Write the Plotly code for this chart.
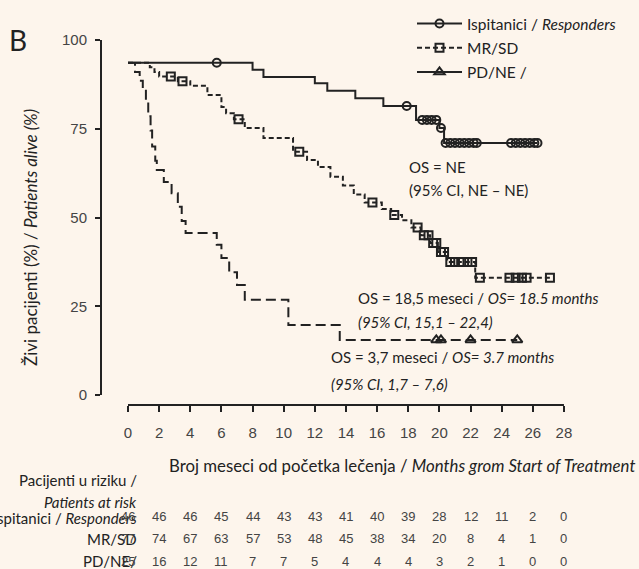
import plotly.graph_objects as go

# ---------------- data ----------------
start_surv = 93.6

resp_event_t = [8.0, 8.7, 12.0, 12.8, 14.6, 16.4, 18.5, 20.0, 20.3]
resp_event_s = [91.6, 89.6, 87.8, 85.7, 83.6, 81.4, 77.5, 75.2, 71.0]
resp_censor_t = [5.7, 17.9, 18.9, 19.2, 19.5, 19.8, 20.1, 20.4, 20.7, 21.0, 21.3,
                 21.6, 21.9, 22.2, 22.4, 24.6, 24.9, 25.2, 25.5, 25.8, 26.1, 26.3]
resp_end = 26.3

mr_event_t = [1.4, 1.7, 2.0, 3.2, 4.0, 5.1, 6.0, 6.3, 6.8, 7.5, 8.7, 10.6, 11.5, 12.2,
              13.0, 13.8, 14.5, 15.2, 16.3, 16.9, 17.6, 18.2, 18.8, 19.4, 19.9, 20.5, 22.3]
mr_event_s = [92.3, 91.0, 89.7, 88.4, 87.1, 84.5, 81.1, 79.4, 77.7, 75.2, 72.4, 68.5, 66.2, 64.2,
              61.5, 59.0, 56.5, 54.2, 52.4, 50.7, 49.2, 47.2, 45.0, 42.8, 40.3, 37.5, 33.0]
mr_censor_t = [2.75, 3.5, 7.1, 11.0, 15.7, 17.1, 18.6, 19.0, 19.3, 19.6, 19.8, 20.1, 20.3,
               20.7, 21.0, 21.4, 21.8, 22.1, 22.6, 24.5, 24.9, 25.3, 25.6, 27.1]
mr_end = 27.1

pd_event_t = [0.45, 0.75, 0.95, 1.15, 1.3, 1.45, 1.55, 1.75, 1.85, 2.3, 2.8, 3.2, 3.45, 3.7,
              5.7, 6.0, 6.5, 7.0, 7.5, 10.3, 13.6]
pd_event_s = [91.0, 88.5, 86.0, 82.5, 78.5, 74.5, 70.0, 66.0, 63.4, 60.0, 56.8, 53.0, 49.0, 45.6,
              42.3, 38.6, 34.6, 31.0, 26.8, 19.7, 15.5]
pd_censor_t = [19.8, 20.1, 22.0, 25.0]
pd_end = 25.0

x_ticks = list(range(0, 29, 2))
y_ticks = [0, 25, 50, 75, 100]

risk_resp = ["46", "46", "46", "45", "44", "43", "43", "41", "40", "39", "28", "12", "11", "2", "0"]
risk_mr = ["77", "74", "67", "63", "57", "53", "48", "45", "38", "34", "20", "8", "4", "1", "0"]
risk_pd = ["25", "16", "12", "11", "7", "7", "5", "4", "4", "4", "3", "2", "1", "0", "0"]

# ---------------- styling ----------------
BG = "#fdf5ec"
INK = "#222222"
COND = "Lato, Roboto, sans-serif"
TICKF = "Liberation Sans, Arial, sans-serif"

# plot area in pixels
W, H = 639, 569
L, R, T, B = 101, 580, 40, 405
XMIN = -27 / 15.57
XMAX = XMIN + (R - L) / 15.57
YMAX = 100
YMIN = 100 - (B - T) / 3.55


def px(xp):
    return (xp - L) / (R - L)


def py(yp):
    return (B - yp) / (B - T)


def step_xy(t, s, end):
    xs = [0.0] + list(t) + [end]
    ys = [start_surv] + list(s) + [s[-1]]
    return xs, ys


def surv_at(t_list, s_list, tt):
    v = start_surv
    for a, b in zip(t_list, s_list):
        if a <= tt:
            v = b
    return v


fig = go.Figure()

groups = [
    ("Ispitanici / <i>Responders</i>", resp_event_t, resp_event_s, resp_censor_t, resp_end,
     "solid", "circle-open", 8),
    ("MR/SD", mr_event_t, mr_event_s, mr_censor_t, mr_end, "5px,3px", "square-open", 8),
    ("PD/NE /", pd_event_t, pd_event_s, pd_censor_t, pd_end, "10px,5px", "triangle-up-open", 9),
]

for i, (name, et, es, ct, end, dash, sym, msz) in enumerate(groups):
    xs, ys = step_xy(et, es, end)
    fig.add_trace(go.Scatter(x=xs, y=ys, mode="lines", line=dict(shape="hv", color=INK, width=2, dash=dash),
                             showlegend=False, hoverinfo="skip"))
    cy = [surv_at(et, es, c) for c in ct]
    fig.add_trace(go.Scatter(x=ct, y=cy, mode="markers",
                             marker=dict(symbol=sym, size=msz, color=INK, line=dict(width=2, color=INK)),
                             showlegend=False, hoverinfo="skip"))
    # legend entry
    fig.add_trace(go.Scatter(x=[None], y=[None], mode="lines+markers", name=name, legendgroup=f"g{i}",
                             line=dict(color=INK, width=2, dash=("solid" if i != 1 else dash)),
                             marker=dict(symbol=sym, size=msz, color=INK, line=dict(width=2, color=INK))))

# axis lines (offset, like the reference)
fig.add_shape(type="line", xref="paper", yref="y", x0=0, x1=0, y0=0, y1=100,
              line=dict(color=INK, width=2))
fig.add_shape(type="line", xref="x", yref="paper", x0=0, x1=28, y0=0, y1=0,
              line=dict(color=INK, width=2))

ann = []
ann.append(dict(text="B", x=px(18), y=py(40), xref="paper", yref="paper", showarrow=False,
                font=dict(family=COND, size=28, color=INK), xanchor="center", yanchor="middle"))
ann.append(dict(text="Živi pacijenti (%) / <i>Patients alive (%)</i>", x=px(30), y=py(238),
                xref="paper", yref="paper", textangle=-90, showarrow=False,
                font=dict(family=COND, size=17, color=INK), xanchor="center", yanchor="middle"))
ann.append(dict(text="Broj meseci od početka lečenja / <i>Months grom Start of Treatment</i>",
                x=px(637), y=py(465), xref="paper", yref="paper", showarrow=False,
                font=dict(family=COND, size=16.8, color=INK), xanchor="right", yanchor="middle"))

txt_font = dict(family=COND, size=15, color=INK)
inside = [
    ("OS = NE", 407, 167),
    ("(95% CI, NE – NE)", 407, 190),
    ("OS = 18,5 meseci / <i>OS= 18.5 months</i>", 356, 298),
    ("<i>(95% CI, 15,1 – 22,4)</i>", 356, 322),
    ("OS = 3,7 meseci / <i>OS= 3.7 months</i>", 329, 357),
    ("<i>(95% CI, 1,7 – 7,6)</i>", 329, 384),
]
for t, xp, yp in inside:
    ann.append(dict(text=t, x=px(xp), y=py(yp), xref="paper", yref="paper", showarrow=False,
                    font=txt_font, xanchor="left", yanchor="middle"))

labels = [
    ("Pacijenti u riziku /", 480),
    ("<i>Patients at risk</i>", 502),
    ("Ispitanici / <i>Responders</i>", 518),
    ("MR/SD", 539),
    ("PD/NE/", 561),
]
for t, yp in labels:
    ann.append(dict(text=t, x=px(139), y=py(yp), xref="paper", yref="paper", showarrow=False,
                    font=txt_font, xanchor="right", yanchor="middle"))

num_font = dict(family=TICKF, size=13, color="#444444")
for row, yp in ((risk_resp, 516), (risk_mr, 538), (risk_pd, 561)):
    for xv, v in zip(x_ticks, row):
        ann.append(dict(text=v, x=xv, y=py(yp), xref="x", yref="paper", showarrow=False,
                        font=num_font, xanchor="center", yanchor="middle"))

fig.update_layout(
    width=W, height=H,
    margin=dict(l=L, r=W - R, t=T, b=H - B, pad=0, autoexpand=False),
    paper_bgcolor=BG, plot_bgcolor=BG,
    annotations=ann,
    showlegend=True,
    legend=dict(x=px(412), y=py(7), xanchor="left", yanchor="top", bgcolor="rgba(0,0,0,0)",
                font=dict(family=COND, size=15.5, color=INK), traceorder="grouped",
                tracegroupgap=1, itemwidth=45),
    xaxis=dict(range=[XMIN, XMAX], showgrid=False, zeroline=False, showline=False,
               tickmode="array", tickvals=x_ticks, ticktext=[str(v) for v in x_ticks],
               ticks="outside", ticklen=6, tickwidth=1.5, tickcolor=INK, automargin=False,
               tickfont=dict(family=TICKF, size=15, color="#444444"), ticklabelstandoff=8),
    yaxis=dict(range=[YMIN, YMAX], showgrid=False, zeroline=False, showline=False,
               tickmode="array", tickvals=y_ticks, ticktext=[str(v) for v in y_ticks],
               ticks="outside", ticklen=5, tickwidth=1.5, tickcolor=INK, automargin=False,
               tickfont=dict(family=TICKF, size=15, color="#444444"), ticklabelstandoff=5),
)

fig.write_html("out.html", config={"displayModeBar": False},
               post_script="document.body.style.margin='0';document.body.style.background='#fdf5ec';")
